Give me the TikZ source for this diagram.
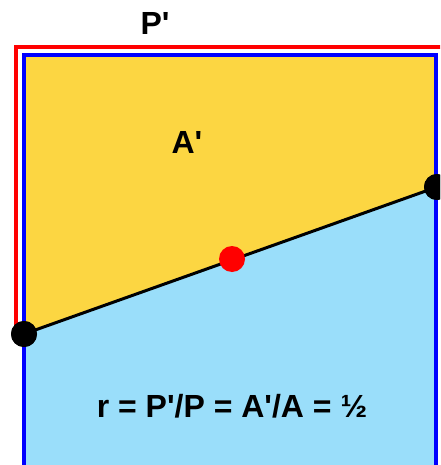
\documentclass[tikz,border=0pt]{standalone}
\usepackage{fontspec}
\setmainfont{Liberation Sans}
\definecolor{gold}{RGB}{252,214,66}
\definecolor{sky}{RGB}{154,222,250}
\newcommand{\ap}{\textquotesingle}
\begin{document}
\begin{tikzpicture}[x=1pt,y=-1pt,
  lbl/.style={font=\fontsize{32}{36}\selectfont\bfseries, inner sep=0pt},
  dot/.style={circle, fill=black, minimum size=26pt, inner sep=0pt}]
\useasboundingbox (0,0) rectangle (440,465);
\clip (0,0) rectangle (440,465);
% fills
\fill[gold] (24,55) rectangle (436,334);
\fill[sky] (24,334) -- (436,187) -- (436,480) -- (24,480) -- cycle;
% red perimeter
\draw[red, line width=4.5pt] (16,334) -- (16,47) -- (450,47);
% blue square
\draw[blue, line width=4.5pt] (24,480) -- (24,55) -- (436,55) -- (436,480);
% nodes
\node[dot] (L) at (24,334) {};
\node[dot] (R) at (437,187) {};
\draw[black, line width=3pt] (L.center) -- (R.center);
\node[dot] at (L) {};
\node[dot] at (R) {};
\node[circle, fill=red, minimum size=26pt, inner sep=0pt] (M) at (232,259) {};
\node[lbl] (Pp) at (155,23) {P\ap};
\node[lbl] (Ap) at (187,142) {A\ap};
\node[lbl, anchor=base] (eq) at (232,417) {r = P\ap/P = A\ap/A = ½};
\end{tikzpicture}
\end{document}
